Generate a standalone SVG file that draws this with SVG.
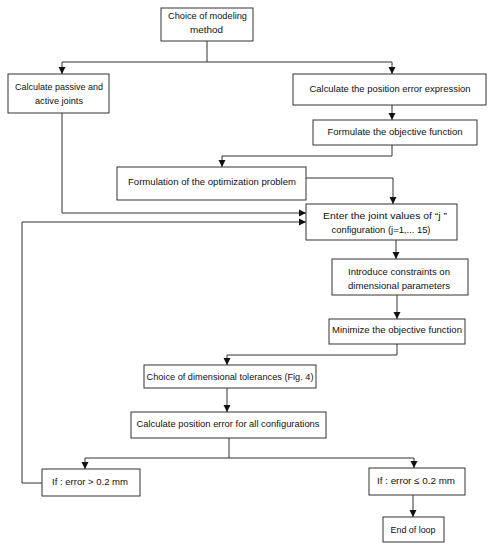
<svg xmlns="http://www.w3.org/2000/svg" width="492" height="550" viewBox="0 0 492 550">
<style>
rect{fill:#fff;stroke:#333;stroke-width:1}
text{font-family:"Liberation Sans",Arial,sans-serif;font-size:9.5px;fill:#111;text-anchor:middle}
.c path{fill:none;stroke:#333;stroke-width:1}
</style>
<defs>
<marker id="ah" markerUnits="userSpaceOnUse" markerWidth="8" markerHeight="8" refX="7" refY="4" orient="auto">
<path d="M0,0.5 L7,4 L0,7.5 Z" fill="#111"/>
</marker>
</defs>
<rect width="492" height="550" style="stroke:none"/>
<g class="c" id="connectors">
<path d="M207,41 V62 H62 V74" marker-end="url(#ah)"/>
<path d="M207,62 H392 V74" marker-end="url(#ah)"/>
<path d="M392,105 V120" marker-end="url(#ah)"/>
<path d="M62,113 V213 H306" marker-end="url(#ah)"/>
<path d="M392,145 V156 H222 V167" marker-end="url(#ah)"/>
<path d="M306,178 H393 V204" marker-end="url(#ah)"/>
<path d="M396,240 V259" marker-end="url(#ah)"/>
<path d="M397,295 V319" marker-end="url(#ah)"/>
<path d="M397,344 V355 H227 V365" marker-end="url(#ah)"/>
<path d="M227,388 V412" marker-end="url(#ah)"/>
<path d="M229,438 V458 H85 V469" marker-end="url(#ah)"/>
<path d="M229,458 H414 V468" marker-end="url(#ah)"/>
<path d="M413,495 V517" marker-end="url(#ah)"/>
<path d="M42,483 H22 V222 H306" marker-end="url(#ah)"/>
</g>
<g id="n1"><rect x="161" y="8" width="92" height="33"/><text x="207.5" y="19" textLength="79" lengthAdjust="spacingAndGlyphs">Choice of modeling</text><text x="206.5" y="33" textLength="33" lengthAdjust="spacingAndGlyphs">method</text></g>
<g id="n2"><rect x="8" y="74" width="101" height="39"/><text x="59" y="90" textLength="88" lengthAdjust="spacingAndGlyphs">Calculate passive and</text><text x="59" y="104" textLength="48" lengthAdjust="spacingAndGlyphs">active joints</text></g>
<g id="n3"><rect x="293" y="74" width="193" height="31"/><text x="390" y="92" textLength="161" lengthAdjust="spacingAndGlyphs">Calculate the position error expression</text></g>
<g id="n4"><rect x="313" y="120" width="164" height="25"/><text x="395" y="135" textLength="135" lengthAdjust="spacingAndGlyphs">Formulate the objective function</text></g>
<g id="n5"><rect x="117" y="167" width="189" height="33"/><text x="212" y="185" textLength="168" lengthAdjust="spacingAndGlyphs">Formulation of the optimization problem</text></g>
<g id="n6"><rect x="306" y="204" width="151" height="36"/><text x="385" y="219" textLength="124" lengthAdjust="spacingAndGlyphs">Enter the joint values of “j ”</text><text x="381" y="233" textLength="99" lengthAdjust="spacingAndGlyphs">configuration (j=1,... 15)</text></g>
<g id="n7"><rect x="332" y="259" width="136" height="36"/><text x="399" y="275" textLength="102" lengthAdjust="spacingAndGlyphs">Introduce constraints on</text><text x="399" y="289" textLength="102" lengthAdjust="spacingAndGlyphs">dimensional parameters</text></g>
<g id="n8"><rect x="329" y="319" width="136" height="25"/><text x="397" y="333" textLength="130" lengthAdjust="spacingAndGlyphs">Minimize the objective function</text></g>
<g id="n9"><rect x="144" y="365" width="172" height="23"/><text x="230" y="380" textLength="167" lengthAdjust="spacingAndGlyphs">Choice of dimensional tolerances (Fig. 4)</text></g>
<g id="n10"><rect x="131" y="412" width="195" height="26"/><text x="228" y="427" textLength="183" lengthAdjust="spacingAndGlyphs">Calculate position error for all configurations</text></g>
<g id="n11"><rect x="42" y="469" width="98" height="27"/><text x="90" y="485" textLength="76" lengthAdjust="spacingAndGlyphs">If : error &gt; 0.2 mm</text></g>
<g id="n12"><rect x="369" y="468" width="96" height="27"/><text x="416" y="484" textLength="78" lengthAdjust="spacingAndGlyphs">If : error ≤ 0.2 mm</text></g>
<g id="n13"><rect x="383" y="517" width="61" height="25"/><text x="413" y="533" textLength="45" lengthAdjust="spacingAndGlyphs">End of loop</text></g>
</svg>
